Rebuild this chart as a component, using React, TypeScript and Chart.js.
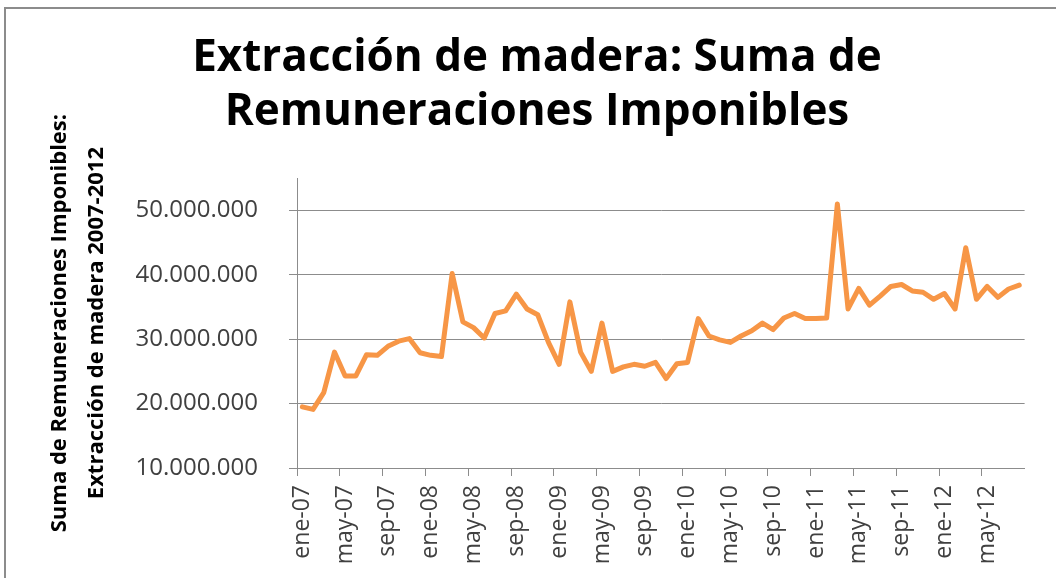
import React, { useEffect, useRef } from 'react';
import { Chart, registerables } from 'chart.js';

Chart.register(...registerables);

const monthNames = ['ene', 'feb', 'mar', 'abr', 'may', 'jun', 'jul', 'ago', 'sep', 'oct', 'nov', 'dic'];
const yearSuffixes = ['07', '08', '09', '10', '11', '12'];
const monthCount = 68;
const categories = yearSuffixes
  .flatMap((y) => monthNames.map((m) => `${m}-${y}`))
  .slice(0, monthCount);

const remuneraciones = [
  19500000, 19100000, 21700000, 28000000, 24300000, 24300000, 27600000, 27500000, 28900000, 29700000, 30100000, 27900000,
  27500000, 27300000, 40200000, 32700000, 31800000, 30200000, 34000000, 34400000, 37000000, 34700000, 33800000, 29500000,
  26100000, 35800000, 28000000, 25000000, 32500000, 25000000, 25700000, 26100000, 25800000, 26400000, 23900000, 26200000,
  26400000, 33200000, 30500000, 29900000, 29500000, 30500000, 31300000, 32500000, 31500000, 33300000, 34000000, 33200000,
  33200000, 33300000, 51000000, 34700000, 37900000, 35300000, 36700000, 38200000, 38500000, 37500000, 37300000, 36200000,
  37100000, 34700000, 44200000, 36200000, 38200000, 36500000, 37800000, 38400000,
];

const yTickValues = [10000000, 20000000, 30000000, 40000000, 50000000];
const yMin = 10000000;
const yMax = 55000000;
const titleLines = ['Extracción de madera: Suma de', 'Remuneraciones Imponibles'];
const yTitleLines = ['Suma de Remuneraciones Imponibles:', 'Extracción de madera 2007-2012'];

const GRID = '#8c8c8c';
const FONT = 'Open Sans';

function fmt(v: number): string {
  return String(Math.round(v)).replace(/\B(?=(\d{3})+(?!\d))/g, '.');
}

export default function App() {
  const ref = useRef<HTMLCanvasElement>(null);

  useEffect(() => {
    if (!ref.current) return;
    const chart = new Chart(ref.current, {
      type: 'line',
      data: {
        labels: categories,
        datasets: [
          {
            data: remuneraciones,
            borderColor: '#F79646',
            backgroundColor: '#F79646',
            borderWidth: 5,
            pointRadius: 0,
            tension: 0,
            borderJoinStyle: 'round',
            borderCapStyle: 'round',
            fill: false,
          },
        ],
      },
      options: {
        responsive: false,
        animation: false,
        layout: { padding: { left: 37, right: 19, top: 0, bottom: 0 } },
        plugins: {
          legend: { display: false },
          tooltip: { enabled: false },
          title: {
            display: true,
            text: titleLines,
            color: '#000000',
            font: { family: FONT, weight: 'bold', size: 44, lineHeight: 1.23 },
            padding: { top: 31, bottom: 39 },
          },
        },
        scales: {
          x: {
            type: 'category',
            offset: true,
            grid: {
              offset: true,
              drawOnChartArea: false,
              drawTicks: true,
              tickLength: 8,
              lineWidth: 1,
              color: (ctx: any) => (ctx.index % 4 === 0 ? GRID : 'rgba(0,0,0,0)'),
            },
            border: { display: true, color: GRID, width: 1 },
            ticks: {
              autoSkip: false,
              maxRotation: 90,
              minRotation: 90,
              padding: 9,
              color: '#404040',
              font: { family: FONT, size: 23 },
              callback: function (this: any, value: any, index: number) {
                return index % 4 === 0 ? this.getLabelForValue(value) : '';
              },
            },
            afterFit: (s: any) => {
              s.height = 110;
            },
          },
          y: {
            min: yMin,
            max: yMax,
            afterBuildTicks: (s: any) => {
              s.ticks = yTickValues.map((v) => ({ value: v }));
            },
            grid: {
              drawOnChartArea: true,
              drawTicks: true,
              tickLength: 8,
              color: GRID,
              lineWidth: 1,
            },
            border: { display: true, color: GRID, width: 1 },
            ticks: {
              autoSkip: false,
              padding: 31,
              color: '#404040',
              font: { family: FONT, size: 24 },
              callback: (v: any) => fmt(Number(v)),
            },
            title: {
              display: true,
              text: yTitleLines,
              color: '#000000',
              font: { family: FONT, weight: 'bold', size: 22, lineHeight: 1.68 },
              padding: { top: 4.5, bottom: 0 },
            },
            afterFit: (s: any) => {
              s.width = 260;
            },
          },
        },
      },
    } as any);
    return () => chart.destroy();
  }, []);

  return (
    <div
      style={{
        position: 'fixed',
        left: 0,
        top: 0,
        width: 1056,
        height: 578,
        background: '#ffffff',
        overflow: 'hidden',
      }}
    >
      <div
        style={{
          position: 'absolute',
          left: 4,
          top: 7,
          width: 1100,
          height: 620,
          borderTop: '2px solid #8c8c8c',
          borderLeft: '2px solid #8c8c8c',
          boxSizing: 'border-box',
        }}
      />
      <canvas
        ref={ref}
        width={1056}
        height={578}
        style={{ position: 'absolute', left: 0, top: 0, width: 1056, height: 578 }}
      />
    </div>
  );
}
